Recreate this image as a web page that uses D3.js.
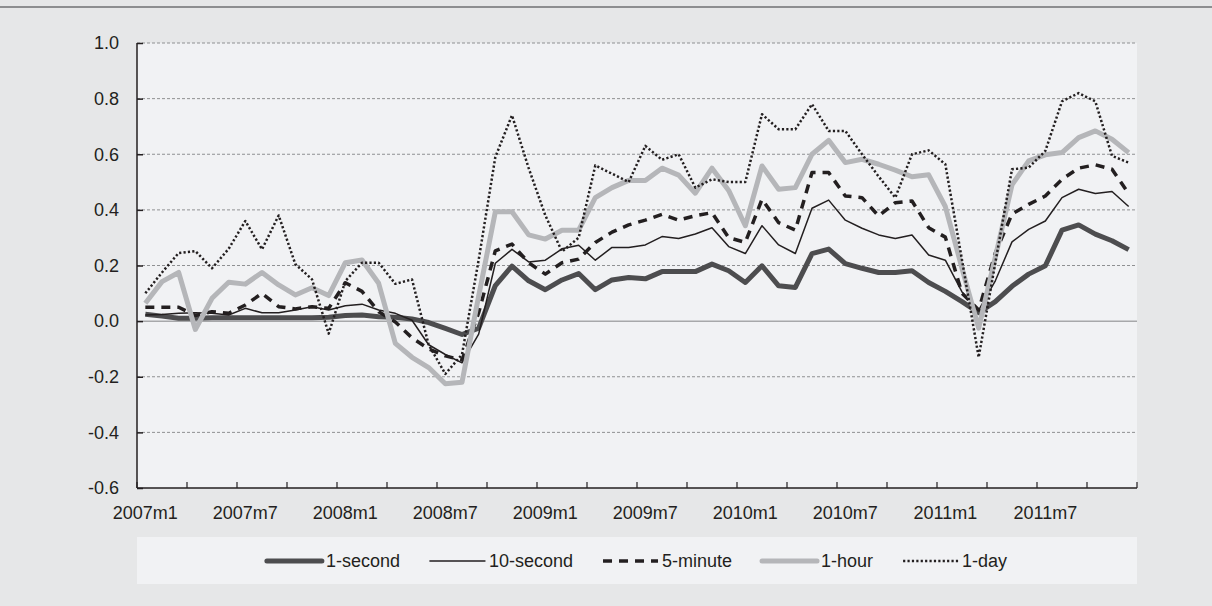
<!DOCTYPE html>
<html>
<head>
<meta charset="utf-8">
<script src="https://cdn.jsdelivr.net/npm/d3@7"></script>
<style>
  html, body { margin: 0; padding: 0; background: #e6e7e8; }
  svg { display: block; }
  text { font-family: "Liberation Sans", Arial, sans-serif; fill: #231f20; }
</style>
</head>
<body>
<svg id="chart" width="1212" height="606"></svg>
<script>
const months = [
  "2007m1","2007m2","2007m3","2007m4","2007m5","2007m6","2007m7","2007m8","2007m9","2007m10","2007m11","2007m12",
  "2008m1","2008m2","2008m3","2008m4","2008m5","2008m6","2008m7","2008m8","2008m9","2008m10","2008m11","2008m12",
  "2009m1","2009m2","2009m3","2009m4","2009m5","2009m6","2009m7","2009m8","2009m9","2009m10","2009m11","2009m12",
  "2010m1","2010m2","2010m3","2010m4","2010m5","2010m6","2010m7","2010m8","2010m9","2010m10","2010m11","2010m12",
  "2011m1","2011m2","2011m3","2011m4","2011m5","2011m6","2011m7","2011m8","2011m9","2011m10","2011m11","2011m12"
];
const xTickLabels = ["2007m1","2007m7","2008m1","2008m7","2009m1","2009m7","2010m1","2010m7","2011m1","2011m7"];
const yTicks = [-0.6,-0.4,-0.2,0.0,0.2,0.4,0.6,0.8,1.0];
const seriesNames = ["1-second","10-second","5-minute","1-hour","1-day"];

const oneSecond = [0.025,0.018,0.010,0.010,0.012,0.012,0.012,0.012,0.012,0.012,0.012,0.014,
  0.020,0.022,0.016,0.014,0.008,-0.005,-0.026,-0.048,-0.025,0.128,0.198,0.145,
  0.113,0.148,0.171,0.113,0.148,0.157,0.152,0.178,0.178,0.178,0.205,0.181,
  0.139,0.199,0.127,0.121,0.243,0.259,0.207,0.190,0.175,0.175,0.181,0.139,
  0.107,0.070,0.030,0.070,0.125,0.169,0.199,0.327,0.346,0.313,0.289,0.257];
const tenSecond = [0.022,0.024,0.028,0.030,0.028,0.022,0.046,0.030,0.030,0.040,0.052,0.040,
  0.055,0.061,0.040,0.028,0.003,-0.085,-0.120,-0.150,-0.047,0.208,0.258,0.213,
  0.219,0.260,0.273,0.219,0.265,0.265,0.274,0.304,0.297,0.313,0.336,0.268,
  0.243,0.343,0.274,0.243,0.406,0.435,0.363,0.334,0.310,0.297,0.310,0.238,
  0.219,0.105,0.040,0.145,0.285,0.330,0.360,0.444,0.474,0.459,0.466,0.412];
const fiveMinute = [0.050,0.050,0.050,0.020,0.034,0.028,0.058,0.100,0.052,0.044,0.052,0.046,
  0.138,0.107,0.034,-0.003,-0.060,-0.100,-0.125,-0.140,0.030,0.253,0.277,0.210,
  0.169,0.210,0.223,0.283,0.320,0.346,0.363,0.384,0.363,0.379,0.390,0.300,
  0.283,0.438,0.354,0.327,0.534,0.534,0.450,0.444,0.378,0.426,0.432,0.336,
  0.302,0.100,0.040,0.245,0.385,0.420,0.450,0.510,0.550,0.562,0.546,0.459];
const oneHour = [0.064,0.142,0.175,-0.030,0.082,0.140,0.133,0.175,0.130,0.094,0.120,0.092,
  0.210,0.220,0.136,-0.080,-0.130,-0.167,-0.225,-0.220,0.090,0.393,0.393,0.310,
  0.295,0.327,0.327,0.444,0.480,0.506,0.506,0.550,0.525,0.460,0.550,0.470,
  0.343,0.558,0.474,0.480,0.600,0.650,0.570,0.582,0.564,0.543,0.519,0.526,
  0.412,0.190,-0.025,0.230,0.490,0.576,0.598,0.606,0.660,0.684,0.654,0.606];
const oneDay = [0.100,0.175,0.245,0.252,0.190,0.260,0.360,0.258,0.380,0.205,0.150,-0.045,
  0.144,0.210,0.210,0.134,0.150,-0.085,-0.190,-0.120,0.220,0.590,0.740,0.550,
  0.380,0.250,0.300,0.560,0.530,0.500,0.630,0.580,0.600,0.480,0.510,0.500,
  0.500,0.744,0.690,0.690,0.780,0.684,0.684,0.600,0.520,0.444,0.600,0.614,
  0.564,0.220,-0.130,0.210,0.546,0.552,0.612,0.790,0.820,0.790,0.594,0.570];

const seriesValues = [oneSecond, tenSecond, fiveMinute, oneHour, oneDay];
const seriesStyles = [
  {color: "#4d4d4f", width: 5,   dash: null},
  {color: "#231f20", width: 1.5, dash: null},
  {color: "#231f20", width: 3.5, dash: "9,7"},
  {color: "#b5b6b9", width: 5,   dash: null},
  {color: "#231f20", width: 2.5, dash: "2.2,2.2"}
];

const svg = d3.select("#chart");
const W = 1212, H = 606;
const L = 137, R = 1137, T = 43, B = 488;

// background + top rule
svg.append("rect").attr("x",0).attr("y",0).attr("width",W).attr("height",H).attr("fill","#e6e7e8");
svg.append("line").attr("x1",0).attr("x2",W).attr("y1",7).attr("y2",7).attr("stroke","#8d8e90").attr("stroke-width",2);
svg.append("rect").attr("x",L).attr("y",T).attr("width",R-L).attr("height",B-T).attr("fill","#f1f2f4");

const x = d3.scaleBand().domain(months).range([L,R]).padding(0);
const y = d3.scaleLinear().domain([-0.6,1.0]).range([B,T]);
const cx = m => x(m) + x.bandwidth()/2;

// gridlines
svg.append("g").selectAll("line").data(yTicks.filter(v => v > -0.6 && Math.abs(v) > 1e-9)).join("line")
  .attr("x1",L).attr("x2",R).attr("y1",d=>y(d)).attr("y2",d=>y(d))
  .attr("stroke","#8f9092").attr("stroke-width",1).attr("stroke-dasharray","3,2");
// zero line
svg.append("line").attr("x1",L).attr("x2",R).attr("y1",y(0)).attr("y2",y(0))
  .attr("stroke","#a7a8aa").attr("stroke-width",1.5);

// y axis
const fmt = d3.format(".1f");
const yAxis = d3.axisLeft(y).tickValues(yTicks).tickFormat(d => fmt(d).replace("\u2212","-")).tickSize(-6).tickPadding(18);
const gy = svg.append("g").attr("transform",`translate(${L},0)`).call(yAxis);
gy.select(".domain").remove();
gy.selectAll(".tick line").attr("stroke","#231f20").attr("stroke-width",1.5);
gy.selectAll("text").style("font-size","18px").style("font-family","'Liberation Sans', Arial, sans-serif").attr("fill","#231f20");
svg.append("line").attr("x1",L).attr("x2",L).attr("y1",T).attr("y2",B).attr("stroke","#231f20").attr("stroke-width",1.5);

// x axis labels
const xAxis = d3.axisBottom(x).tickValues(xTickLabels).tickSize(0).tickPadding(18);
const gx = svg.append("g").attr("transform",`translate(0,${B})`).call(xAxis);
gx.select(".domain").remove();
gx.selectAll("text").style("font-size","18px").style("font-family","'Liberation Sans', Arial, sans-serif").attr("fill","#231f20");
// x tick marks at band boundaries every 3 months
const tickIdx = d3.range(0, months.length + 1, 3);
svg.append("g").selectAll("line").data(tickIdx).join("line")
  .attr("x1",i => i < months.length ? x(months[i]) : R)
  .attr("x2",i => i < months.length ? x(months[i]) : R)
  .attr("y1",B).attr("y2",B-6).attr("stroke","#231f20").attr("stroke-width",1.2);
svg.append("line").attr("x1",L).attr("x2",R).attr("y1",B).attr("y2",B).attr("stroke","#231f20").attr("stroke-width",1.5);

// series
const line = d3.line().x((d,i)=>cx(months[i])).y(d=>y(d));
seriesValues.forEach((vals,k) => {
  const st = seriesStyles[k];
  svg.append("path").datum(vals).attr("d",line)
    .attr("fill","none").attr("stroke",st.color).attr("stroke-width",st.width)
    .attr("stroke-linejoin","round")
    .attr("stroke-dasharray",st.dash);
});

// legend
svg.append("rect").attr("x",L).attr("y",537).attr("width",R-L).attr("height",47).attr("fill","#f1f2f4");
const lg = svg.append("g");
let cursor = 0;
seriesNames.forEach((name,k) => {
  const st = seriesStyles[k];
  const g = lg.append("g");
  g.append("line").attr("x1",0).attr("x2",55).attr("y1",0).attr("y2",0)
    .attr("stroke",st.color).attr("stroke-width",st.width).attr("stroke-dasharray",st.dash)
    .attr("stroke-linecap", st.dash ? "butt" : "round");
  const t = g.append("text").attr("x",59).attr("y",0).attr("dy","0.35em")
    .style("font-size","18px").text(name);
  const w = 59 + t.node().getComputedTextLength();
  g.attr("transform",`translate(${cursor},561)`);
  cursor += w + 30;
});
const totalW = cursor - 30;
lg.attr("transform",`translate(${(L+R)/2 - totalW/2},0)`);
</script>
</body>
</html>
